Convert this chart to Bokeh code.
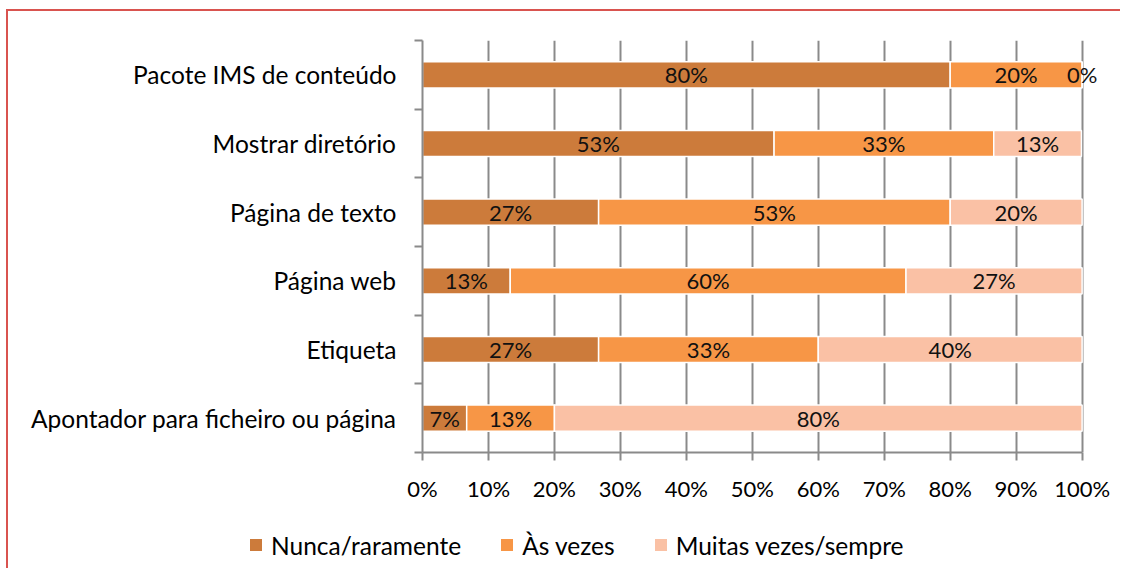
from bokeh.plotting import figure
from bokeh.layouts import column
from bokeh.models import (Range1d, FixedTicker, LinearAxis, ColumnDataSource, Div)
from bokeh.core.properties import value
from bokeh.embed import file_html
from bokeh.resources import INLINE

categories = ["Apontador para ficheiro ou página", "Etiqueta", "Página web",
              "Página de texto", "Mostrar diretório", "Pacote IMS de conteúdo"]
series_names = ["Nunca/raramente", "Às vezes", "Muitas vezes/sempre"]
nunca = [6.7, 26.7, 13.3, 26.7, 53.3, 80.0]
as_vezes = [13.3, 33.3, 60.0, 53.3, 33.3, 20.0]
muitas = [80.0, 40.0, 26.7, 20.0, 13.3, 0.0]
colors = ["#CC7B3B", "#F79646", "#FAC1A5"]
x_ticks = [0, 10, 20, 30, 40, 50, 60, 70, 80, 90, 100]

FONT = "Lato"
W = 1120
H_MAIN, H_LEG = 518, 50
GRID = "#8A8A8A"
BORDER = "#D9534F"

p = figure(width=W, height=H_MAIN, output_backend="svg", toolbar_location=None,
           x_range=Range1d(0, 104), y_range=Range1d(-0.5, 5.5),
           min_border_left=422, min_border_right=12, min_border_top=40,
           min_border_bottom=H_MAIN - 452, y_axis_location=None)
p.outline_line_color = None
p.background_fill_color = "white"
p.border_fill_color = None
p.styles = {"background": f"linear-gradient({BORDER},{BORDER}) 6px 9px / 3000px 2px no-repeat, "
                          f"linear-gradient({BORDER},{BORDER}) 6px 9px / 2px 3000px no-repeat, white"}

# grid
p.xgrid.ticker = FixedTicker(ticks=x_ticks)
p.xgrid.grid_line_color = GRID
p.xgrid.grid_line_width = 2
p.ygrid.grid_line_color = None

# x axis
p.xaxis.ticker = FixedTicker(ticks=x_ticks)
p.xaxis.bounds = (0, 100)
p.xaxis.major_label_overrides = {t: f"{t}%" for t in x_ticks}
p.xaxis.axis_line_color = GRID
p.xaxis.axis_line_width = 2
p.xaxis.major_tick_line_color = GRID
p.xaxis.major_tick_line_width = 2
p.xaxis.major_tick_out = 8
p.xaxis.major_tick_in = 0
p.xaxis.minor_tick_line_color = None
p.xaxis.major_label_standoff = 14
p.xaxis.major_label_text_font = FONT
p.xaxis.major_label_text_font_size = "22px"
p.xaxis.major_label_text_color = "#000000"

ys = list(range(len(categories)))
bounds = [i - 0.5 for i in range(len(categories) + 1)]

# y axis: ticks at category boundaries
ax_ticks = LinearAxis(ticker=FixedTicker(ticks=bounds))
ax_ticks.major_label_overrides = {b: "" for b in bounds}
ax_ticks.major_label_standoff = 0
ax_ticks.axis_line_color = GRID
ax_ticks.axis_line_width = 2
ax_ticks.major_tick_line_color = GRID
ax_ticks.major_tick_line_width = 2
ax_ticks.major_tick_out = 8
ax_ticks.major_tick_in = 0
ax_ticks.minor_tick_line_color = None
p.add_layout(ax_ticks, "left")

# y axis: category labels at centers
ax_lab = LinearAxis(ticker=FixedTicker(ticks=ys))
ax_lab.major_label_overrides = {i: c for i, c in enumerate(categories)}
ax_lab.axis_line_color = None
ax_lab.major_tick_line_color = None
ax_lab.minor_tick_line_color = None
ax_lab.major_label_standoff = 12
ax_lab.major_label_text_font = FONT
ax_lab.major_label_text_font_size = "24.5px"
ax_lab.major_label_text_color = "#000000"
p.add_layout(ax_lab, "left")

series = [nunca, as_vezes, muitas]
left = [0.0] * len(categories)
for name, vals, col in zip(series_names, series, colors):
    right = [l + v for l, v in zip(left, vals)]
    src = ColumnDataSource(dict(y=ys, left=left, right=right,
                                mid=[(l + r) / 2 for l, r in zip(left, right)],
                                lab=[f"{round(v)}%" for v in vals]))
    p.hbar(y="y", left="left", right="right", height=0.38, source=src,
           fill_color=col, line_color="white", line_width=1.5)
    p.text(x="mid", y="y", text="lab", source=src, text_align="center",
           text_baseline="middle", text_font=value(FONT), text_font_size="22px",
           text_color="#111111")
    left = right

# legend strip below the chart
gaps = [40, 40, 0]
items_html = "".join(
    f'<span style="display:inline-flex;align-items:center;margin-right:{g}px;">'
    f'<span style="display:inline-block;width:12px;height:12px;background:{c};margin-right:9px;'
    f'box-shadow:0 0 0 1px #fff;"></span>'
    f'<span>{n}</span></span>'
    for n, c, g in zip(series_names, colors, gaps))
legend_html = (f'<div style="display:flex;align-items:center;height:{H_LEG}px;padding-left:250px;'
               f'font-family:{FONT};font-size:24.5px;color:#000;white-space:nowrap;'
               f'position:relative;top:2px;">{items_html}</div>')
leg = Div(text=legend_html, width=W, height=H_LEG,
          styles={"background": f"linear-gradient({BORDER},{BORDER}) 6px 0 / 2px 3000px no-repeat, white",
                  "margin": "0", "padding": "0"})

layout = column(p, leg, spacing=0)
open("out.html", "w").write(file_html(layout, INLINE))
